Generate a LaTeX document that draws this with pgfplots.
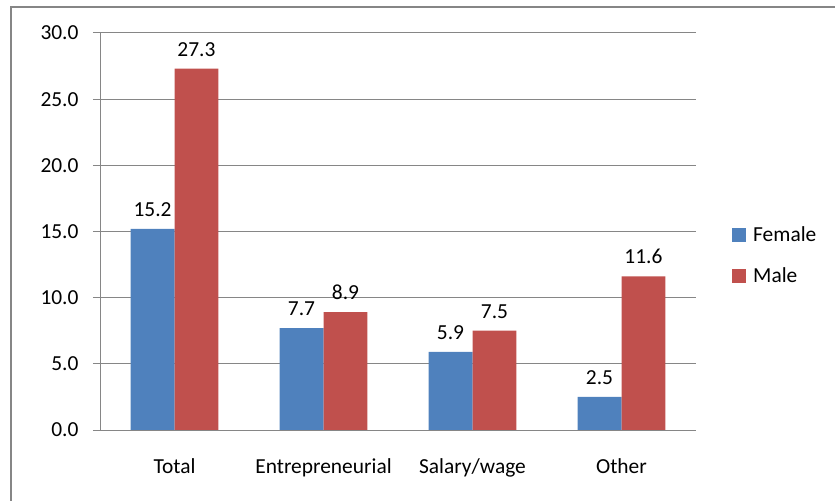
\documentclass[border=0pt]{standalone}
\usepackage{fontspec}
\setmainfont{Carlito}
\usepackage{pgfplots}
\pgfplotsset{compat=1.18}
\definecolor{fem}{HTML}{4F81BD}
\definecolor{mal}{HTML}{C0504D}
\definecolor{gline}{HTML}{868686}
\begin{document}
\begin{tikzpicture}
\useasboundingbox (0,0) rectangle (835bp,501bp);
\draw[gline, line width=1.5bp] (11bp,0) -- (11bp,494bp) -- (835bp,494bp);
\begin{axis}[
    at={(100bp,71bp)}, anchor=south west,
    scale only axis, width=596bp, height=397bp,
    ymin=0, ymax=30, ytick={0,5,10,15,20,25,30},
    xmin=-0.5, xmax=3.5,
    xtick={0,1,2,3},
    xticklabels={Total,Entrepreneurial,Salary/wage,Other},
    xtick style={draw=none},
    extra x ticks={-0.5,0.5,1.5,2.5,3.5},
    extra x tick labels={},
    extra x tick style={grid=none},
    axis lines=left, axis line style={-, gline, line width=1bp},
    tick align=outside, major tick length=7bp,
    tick style={gline, line width=1bp},
    ymajorgrids, grid style={gline, line width=1bp},
    font=\fontsize{21.5}{25}\selectfont,
    /pgf/number format/assume math mode=true,
    yticklabel={\pgfmathprintnumber[fixed,fixed zerofill,precision=1]{\tick}},
    yticklabel style={xshift=-11bp},
    xticklabel style={yshift=-18bp},
    ybar=0pt, bar width=0.295,
    nodes near coords={\pgfmathprintnumber[fixed,fixed zerofill,precision=1]{\pgfplotspointmeta}},
    nodes near coords style={yshift=9bp, font=\fontsize{21.5}{25}\selectfont},
    legend style={at={(1,0.44)}, anchor=west, xshift=33bp, draw=none, fill=none,
        font=\fontsize{21.5}{25}\selectfont, row sep=20bp,
        nodes={inner sep=2bp}},
    legend cell align=left,
    legend image code/.code={\fill[#1] (0bp,-7bp) rectangle (14bp,7bp);},
]
\addplot[fill=fem, draw=none, bar shift=-0.1475] coordinates {(0,15.2) (1,7.7) (2,5.9) (3,2.5)};
\addlegendentry{\hspace{5bp}Female}
\addplot[fill=mal, draw=none, bar shift=0.1475] coordinates {(0,27.3) (1,8.9) (2,7.5) (3,11.6)};
\addlegendentry{\hspace{5bp}Male}
\end{axis}
\end{tikzpicture}
\end{document}
